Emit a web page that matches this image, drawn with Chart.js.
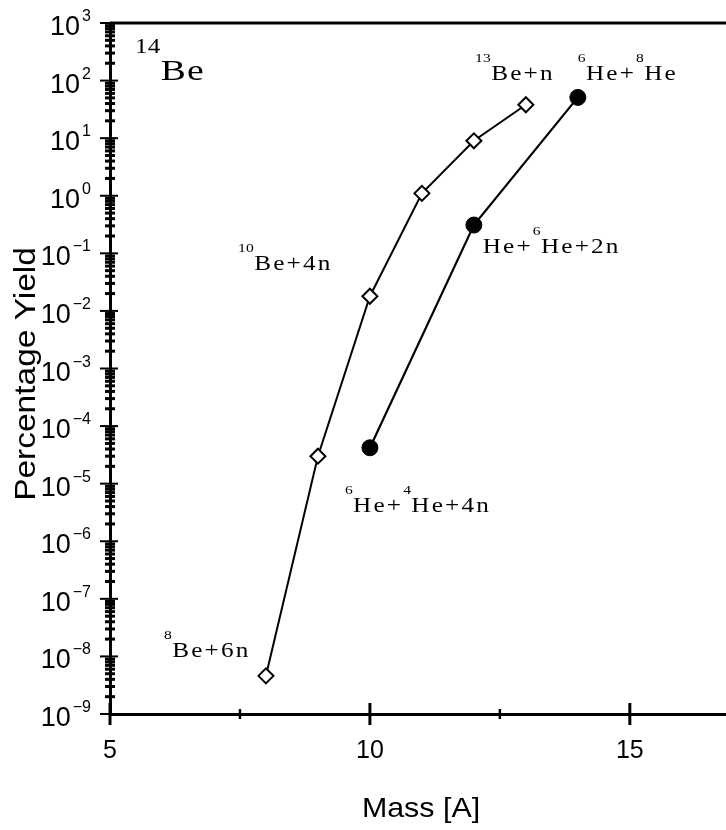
<!DOCTYPE html>
<html>
<head>
<meta charset="utf-8">
<title>14Be percentage yield</title>
<script src="https://cdn.jsdelivr.net/npm/chart.js@4.4.1/dist/chart.umd.min.js"></script>
<style>
  html, body { margin: 0; padding: 0; background: #fff; }
  #chart { display: block; }
</style>
</head>
<body>
<canvas id="chart" width="726" height="830"></canvas>
<script>
(function () {
  'use strict';

  // 14Be breakup channels: diamonds = Be fragments, dots = He + He fragments
  var beMass = [8, 9, 10, 11, 12, 13];
  var beYield = [4.6e-9, 3.0e-5, 1.8e-2, 1.1, 9.0, 38];
  var heMass = [10, 12, 14];
  var heYield = [4.2e-5, 0.31, 51];

  var yExponents = [-9, -8, -7, -6, -5, -4, -3, -2, -1, 0, 1, 2, 3];
  var xTickValues = [5, 10, 15];
  var xMinorValues = [7.5, 12.5];

  var SANS = '"Liberation Sans", Arial, sans-serif';
  var SERIF = '"Liberation Serif", "Times New Roman", serif';

  // text pieces: [text, fontSize, rise]
  var notes = [
    { x: 5.48, logY: 2.01, stretch: 1.25, gap: 1, parts: [['14', 20, 27], ['Be', 30, 0]] },
    { x: 12.02, logY: 2.01, stretch: 1.2, gap: 1.8, parts: [['13', 13, 18], ['Be+n', 21, 0]] },
    { x: 14.0, logY: 2.01, stretch: 1.2, gap: 1.8, parts: [['6', 13, 18], ['He+', 21, 0], ['8', 13, 18], ['He', 21, 0]] },
    { x: 12.17, logY: -0.99, stretch: 1.2, gap: 1.8, parts: [['He+', 21, 0], ['6', 13, 18], ['He+2n', 21, 0]] },
    { x: 7.46, logY: -1.29, stretch: 1.2, gap: 1.8, parts: [['10', 13, 18], ['Be+4n', 21, 0]] },
    { x: 9.52, logY: -5.49, stretch: 1.2, gap: 1.8, parts: [['6', 13, 18], ['He+', 21, 0], ['4', 13, 18], ['He+4n', 21, 0]] },
    { x: 6.04, logY: -8.01, stretch: 1.2, gap: 1.8, parts: [['8', 13, 18], ['Be+6n', 21, 0]] }
  ];

  function toPoints(xs, ys) {
    return xs.map(function (x, i) {
      return { x: x, y: ys[i] };
    });
  }

  function drawPieces(ctx, parts, x, y, stretch, gap) {
    ctx.save();
    ctx.translate(x, y);
    ctx.scale(stretch, 1);
    ctx.textAlign = 'left';
    ctx.textBaseline = 'alphabetic';
    var cx = 0;
    parts.forEach(function (p) {
      ctx.font = p[1] + 'px ' + SERIF;
      // spread the glyphs a little, like the original figure
      for (var i = 0; i < p[0].length; i++) {
        var ch = p[0].charAt(i);
        ctx.fillText(ch, cx, -p[2]);
        cx += ctx.measureText(ch).width + (p[2] ? 0.3 : gap);
      }
    });
    ctx.restore();
  }

  function line(ctx, x1, y1, x2, y2, w) {
    ctx.lineWidth = w;
    ctx.beginPath();
    ctx.moveTo(x1, y1);
    ctx.lineTo(x2, y2);
    ctx.stroke();
  }

  var decorPlugin = {
    id: 'decor',
    afterDraw: function (chart) {
      var ctx = chart.ctx;
      var area = chart.chartArea;
      var xs = chart.scales.x;
      var ys = chart.scales.y;
      ctx.save();
      ctx.strokeStyle = '#000';
      ctx.fillStyle = '#000';
      ctx.lineCap = 'butt';

      // top frame line
      line(ctx, area.left, area.top, chart.width, area.top, 3);

      // y ticks crossing the axis
      yExponents.forEach(function (e) {
        var py = ys.getPixelForValue(Math.pow(10, e));
        line(ctx, area.left - 10, py, area.left + 8, py, 2);
        if (e < 3) {
          for (var m = 2; m <= 9; m++) {
            var my = ys.getPixelForValue(m * Math.pow(10, e));
            line(ctx, area.left - 5, my, area.left + 5, my, 3);
          }
        }
        // label 10^e
        var expText = e < 0 ? '\u2212' + Math.abs(e) : String(e);
        ctx.textAlign = 'left';
        ctx.textBaseline = 'alphabetic';
        ctx.font = '16px ' + SANS;
        var ew = ctx.measureText(expText).width;
        var right = area.left - 19;
        ctx.fillText(expText, right - ew, py - 2);
        ctx.font = '27px ' + SANS;
        var bw = ctx.measureText('10').width;
        ctx.fillText('10', right - ew - 2 - bw, py + 12);
      });

      // x ticks crossing the axis
      xTickValues.forEach(function (v) {
        var px = xs.getPixelForValue(v);
        line(ctx, px, area.bottom - 11, px, area.bottom + 11, 3);
        ctx.font = '25px ' + SANS;
        ctx.textAlign = 'center';
        ctx.fillText(String(v), px, area.bottom + 44);
      });
      xMinorValues.forEach(function (v) {
        var px = xs.getPixelForValue(v);
        line(ctx, px, area.bottom - 5, px, area.bottom + 5, 2.5);
      });

      // axis titles
      ctx.save();
      ctx.translate((area.left + area.right) / 2 + 3, 817);
      ctx.scale(1.085, 1);
      ctx.font = '28px ' + SANS;
      ctx.textAlign = 'center';
      ctx.fillText('Mass [A]', 0, 0);
      ctx.restore();

      ctx.save();
      ctx.translate(35, 374);
      ctx.rotate(-Math.PI / 2);
      ctx.scale(1.116, 1);
      ctx.font = '30px ' + SANS;
      ctx.textAlign = 'center';
      ctx.fillText('Percentage Yield', 0, 0);
      ctx.restore();

      // channel labels
      notes.forEach(function (n) {
        drawPieces(ctx, n.parts, xs.getPixelForValue(n.x), ys.getPixelForValue(Math.pow(10, n.logY)), n.stretch, n.gap);
      });

      ctx.restore();
    }
  };

  var canvas = document.getElementById('chart');
  new Chart(canvas.getContext('2d'), {
    type: 'scatter',
    data: {
      datasets: [
        {
          label: 'Be channels',
          data: toPoints(beMass, beYield),
          showLine: true,
          borderColor: '#000',
          borderWidth: 2,
          pointStyle: 'rectRot',
          pointRadius: 7.5,
          pointBorderWidth: 2,
          pointBackgroundColor: '#fff',
          pointBorderColor: '#000',
          tension: 0
        },
        {
          label: 'He channels',
          data: toPoints(heMass, heYield),
          showLine: true,
          borderColor: '#000',
          borderWidth: 2.2,
          pointStyle: 'circle',
          pointRadius: 8,
          pointBorderWidth: 1,
          pointBackgroundColor: '#000',
          pointBorderColor: '#000',
          tension: 0
        }
      ]
    },
    options: {
      responsive: false,
      animation: false,
      devicePixelRatio: 1,
      layout: { autoPadding: false, padding: { top: 23, left: 0, right: 0, bottom: 0 } },
      plugins: {
        legend: { display: false },
        tooltip: { enabled: false }
      },
      scales: {
        x: {
          type: 'linear',
          min: 5,
          max: 16.85,
          ticks: { display: false },
          grid: { display: false },
          border: { display: true, color: '#000', width: 3 },
          afterFit: function (scale) { scale.height = 116; }
        },
        y: {
          type: 'logarithmic',
          min: 1e-9,
          max: 1e3,
          ticks: { display: false },
          grid: { display: false },
          border: { display: true, color: '#000', width: 3 },
          afterFit: function (scale) { scale.width = 110; }
        }
      }
    },
    plugins: [decorPlugin]
  });
})();
</script>
</body>
</html>
